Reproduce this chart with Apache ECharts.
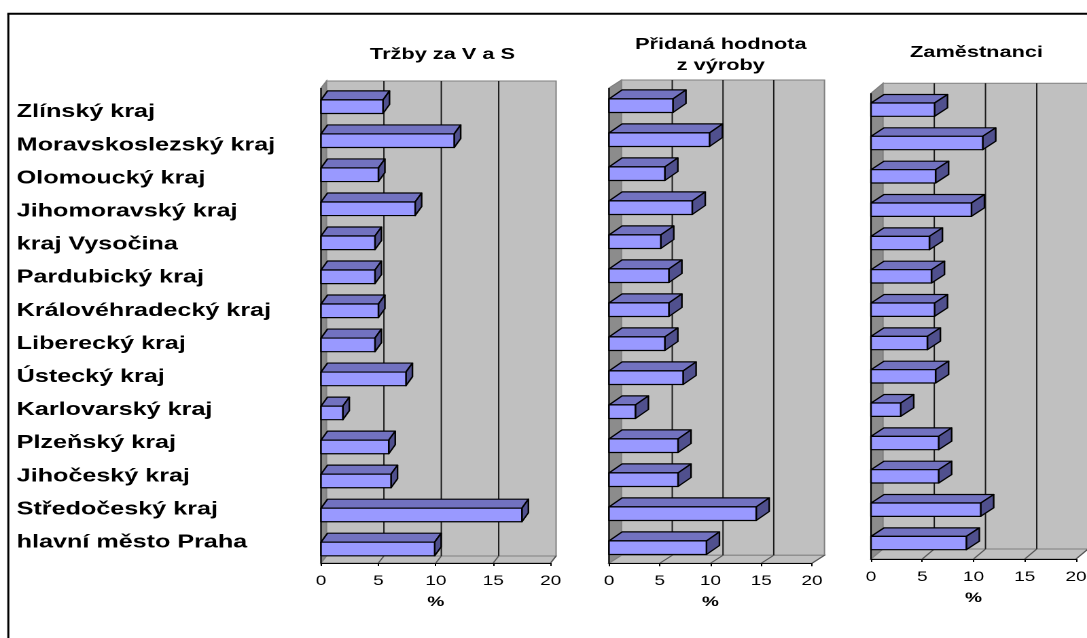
<!DOCTYPE html>
<html>
<head>
<meta charset="utf-8">
<script src="https://cdn.jsdelivr.net/npm/echarts@6/dist/echarts.min.js"></script>
<style>
  html, body { margin: 0; padding: 0; background: #fff; overflow: hidden; }
  /* the chart is laid out on an 800px-wide canvas and shown stretched to the page width */
  #chart { width: 800px; height: 638px; transform: scaleX(1.35875); transform-origin: 0 0; }
</style>
</head>
<body>
<div id="chart"></div>
<script>
// Regions, listed top to bottom
const regions = [
  'Zlínský kraj', 'Moravskoslezský kraj', 'Olomoucký kraj', 'Jihomoravský kraj',
  'kraj Vysočina', 'Pardubický kraj', 'Královéhradecký kraj', 'Liberecký kraj',
  'Ústecký kraj', 'Karlovarský kraj', 'Plzeňský kraj', 'Jihočeský kraj',
  'Středočeský kraj', 'hlavní město Praha'
];
// Share of each region, %
const salesShare      = [5.4, 11.6, 5.0, 8.2, 4.7, 4.7, 5.0, 4.7, 7.4, 1.9, 5.9, 6.1, 17.5, 9.9];
const valueAddedShare = [6.3, 9.9, 5.5, 8.2, 5.1, 5.9, 5.9, 5.5, 7.3, 2.6, 6.8, 6.8, 14.5, 9.6];
const employeeShare   = [6.2, 10.9, 6.3, 9.8, 5.7, 5.9, 6.2, 5.5, 6.3, 2.9, 6.6, 6.6, 10.7, 9.3];
const xTicks = [0, 5, 10, 15, 20];
const panelTitles = ['Tržby za V a S', 'Přidaná hodnota\nz výroby', 'Zaměstnanci'];
const axisUnit = '%';

const SX = 1087 / 800;          // horizontal stretch of the canvas
const px = x => x / SX;         // page x -> canvas x
const FONT = '"Liberation Sans", Arial, sans-serif';

// Panel geometry (page pixels); w* = depth of the walls, b* = depth of the bars
const layout = [
  { x0: 321, x20: 550.6, frameTop: 88,   floor: 563,   wdx: 5.5,  wdy: -7,  barTop: 89.7, barBottom: 566,   bdx: 6.5, bdy: -9,   titleX: 442.5, titleTop: 44 },
  { x0: 609, x20: 812,   frameTop: 88,   floor: 563.3, wdx: 12.5, wdy: -8,  barTop: 88.7, barBottom: 564.7, bdx: 13,  bdy: -9,   titleX: 720.8, titleTop: 34 },
  { x0: 871, x20: 1076,  frameTop: 93.3, floor: 559,   wdx: 12,   wdy: -10, barTop: 93,   barBottom: 559.7, bdx: 13,  bdy: -8.5, titleX: 976.5, titleTop: 42 }
];
const panelValues = [salesShare, valueAddedShare, employeeShare];

// Side wall, back wall, floor and gridlines of one panel
function frameRenderer(L) {
  const dx = px(L.wdx), dy = L.wdy;
  return function (params, api) {
    const [xa, yb] = api.coord([xTicks[0], 0]);
    const [xz, yt] = api.coord([xTicks[xTicks.length - 1], 1]);
    const edge = { stroke: '#808080', lineWidth: 1 };
    const children = [
      { type: 'polygon', shape: { points: [[xa, yt], [xa + dx, yt + dy], [xa + dx, yb + dy], [xa, yb]] },
        style: Object.assign({ fill: '#8C8C8C' }, edge) },
      { type: 'rect', shape: { x: xa + dx, y: yt + dy, width: xz - xa, height: yb - yt },
        style: Object.assign({ fill: '#C0C0C0' }, edge) },
      { type: 'polygon', shape: { points: [[xa, yb], [xz, yb], [xz + dx, yb + dy], [xa + dx, yb + dy]] },
        style: Object.assign({ fill: '#C0C0C0' }, edge) }
    ];
    xTicks.slice(1, -1).forEach(t => {
      const x = api.coord([t, 0])[0];
      children.push({ type: 'line', shape: { x1: x + dx, y1: yt + dy, x2: x + dx, y2: yb + dy },
        style: { stroke: '#1a1a1a', lineWidth: 1 } });
    });
    xTicks.slice(1).forEach(t => {
      const x = api.coord([t, 0])[0];
      children.push({ type: 'line', shape: { x1: x, y1: yb, x2: x + dx, y2: yb + dy },
        style: { stroke: '#555', lineWidth: 1 } });
    });
    children.push({ type: 'line', shape: { x1: xa, y1: yt, x2: xa, y2: yb },
      style: { stroke: '#000', lineWidth: 1.1 } });
    return { type: 'group', children };
  };
}

// One 3-D bar: top face, side face, front face
function barRenderer(L) {
  const dx = px(L.bdx), dy = L.bdy;
  return function (params, api) {
    const cat = api.value(1);
    const [xr, yc] = api.coord([api.value(0), cat]);
    const x0 = api.coord([0, cat])[0];
    const h = api.size([0, 1])[1] * 0.4;
    const yT = yc - h / 2, yB = yc + h / 2;
    const line = { stroke: '#000', lineWidth: 1.2, lineJoin: 'round' };
    return { type: 'group', children: [
      { type: 'polygon', shape: { points: [[x0, yT], [xr, yT], [xr + dx, yT + dy], [x0 + dx, yT + dy]] },
        style: Object.assign({ fill: '#7272C0' }, line) },
      { type: 'polygon', shape: { points: [[xr, yT], [xr + dx, yT + dy], [xr + dx, yB + dy], [xr, yB]] },
        style: Object.assign({ fill: '#50508E' }, line) },
      { type: 'rect', shape: { x: x0, y: yT, width: xr - x0, height: h },
        style: Object.assign({ fill: '#9999FF' }, line) }
    ] };
  };
}

const grid = [], xAxis = [], yAxis = [], series = [], title = [];
layout.forEach((L, i) => {
  const left = px(L.x0), width = px(L.x20) - px(L.x0);
  grid.push({ left, width, top: L.frameTop, height: L.floor - L.frameTop, containLabel: false, outerBoundsMode: 'none' });
  grid.push({ left, width, top: L.barTop, height: L.barBottom - L.barTop, containLabel: false, outerBoundsMode: 'none' });
  const fg = 2 * i, bg = 2 * i + 1;
  xAxis.push({
    type: 'value', gridIndex: fg, min: xTicks[0], max: xTicks[xTicks.length - 1], interval: 5, z: 5,
    axisLine: { show: true, lineStyle: { color: '#000', width: 1 } },
    axisTick: { show: true, length: 3, lineStyle: { color: '#000' } },
    axisLabel: { show: true, margin: 11, fontSize: 14, color: '#000', fontFamily: FONT },
    splitLine: { show: false },
    name: axisUnit, nameLocation: 'middle', nameGap: 32,
    nameTextStyle: { fontSize: 14, fontWeight: 'bold', color: '#000', fontFamily: FONT }
  });
  yAxis.push({ type: 'value', gridIndex: fg, min: 0, max: 1, show: false });
  xAxis.push({ type: 'value', gridIndex: bg, min: xTicks[0], max: xTicks[xTicks.length - 1], show: false });
  yAxis.push({ type: 'category', gridIndex: bg, data: regions, inverse: true, show: false });
  series.push({
    type: 'custom', xAxisIndex: fg, yAxisIndex: fg, z: 1, silent: true,
    renderItem: frameRenderer(L), data: [[0, 0]]
  });
  series.push({
    type: 'custom', xAxisIndex: bg, yAxisIndex: bg, z: 2, silent: true,
    renderItem: barRenderer(L),
    data: panelValues[i].map((v, k) => [v, k])
  });
  title.push({
    text: panelTitles[i], left: px(L.titleX), top: L.titleTop, textAlign: 'center', padding: 0,
    textStyle: { fontSize: 16, fontWeight: 'bold', color: '#000', fontFamily: FONT, lineHeight: 21 }
  });
});

// Region names on the left
grid.push({ left: px(16.7), width: 1, top: 95.6, height: 463.4, containLabel: false, outerBoundsMode: 'none' });
xAxis.push({ type: 'value', gridIndex: 6, show: false });
yAxis.push({
  type: 'category', gridIndex: 6, data: regions, inverse: true,
  axisLine: { show: false }, axisTick: { show: false },
  axisLabel: { align: 'left', margin: 0, interval: 0, fontSize: 18.5, fontWeight: 'bold', color: '#000', fontFamily: FONT }
});

const chart = echarts.init(document.getElementById('chart'), null, { renderer: 'canvas', devicePixelRatio: 2 });
chart.setOption({
  animation: false,
  backgroundColor: '#fff',
  title, grid, xAxis, yAxis, series,
  graphic: [
    { type: 'line', silent: true, shape: { x1: px(8.3), y1: 13.7, x2: px(8.3), y2: 700 }, style: { stroke: '#000', lineWidth: 1.5 } },
    { type: 'line', silent: true, shape: { x1: px(7.3), y1: 13.7, x2: px(1100), y2: 13.7 }, style: { stroke: '#000', lineWidth: 2 } }
  ]
});
</script>
</body>
</html>
